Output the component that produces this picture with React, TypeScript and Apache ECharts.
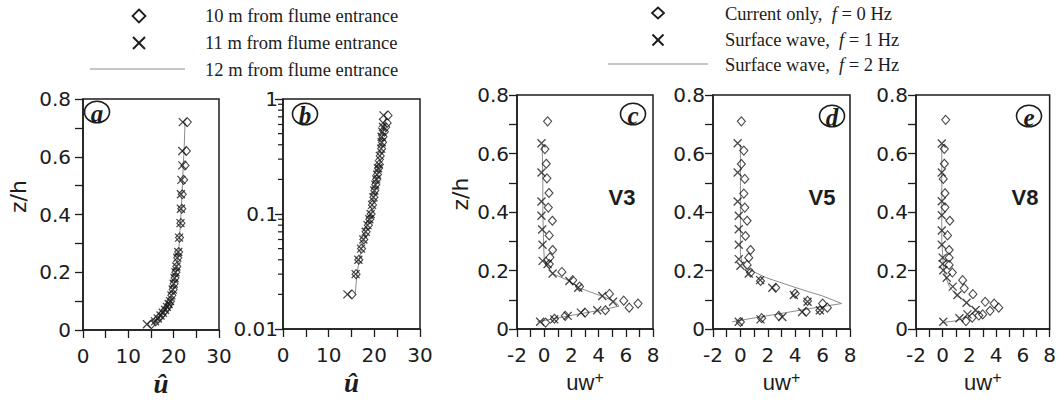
import React, { useEffect, useRef } from 'react';
import * as echarts from 'echarts';

// ---- Panels (a) & (b): mean velocity profiles, z/h levels and u-hat values ----
const zLevels = [0.02, 0.03, 0.04, 0.05, 0.06, 0.07, 0.08, 0.09, 0.1, 0.12, 0.14, 0.16, 0.18, 0.2, 0.22, 0.25, 0.27, 0.32, 0.37, 0.42, 0.47, 0.52, 0.57, 0.62, 0.72];
const u10m = [15.1, 16.0, 16.6, 17.2, 17.7, 18.2, 18.7, 19.0, 19.3, 19.6, 19.9, 20.1, 20.3, 20.5, 20.7, 20.9, 21.1, 21.3, 21.6, 21.8, 21.9, 22.2, 22.5, 22.8, 23.0];
const u11m = [14.1, 15.9, 16.5, 17.1, 17.6, 18.1, 18.5, 18.9, 19.2, 19.5, 19.8, 20.0, 20.2, 20.4, 20.6, 20.8, 21.0, 21.2, 21.5, 21.6, 21.6, 21.7, 21.9, 21.9, 22.0];
const u12m = [15.8, 16.2, 16.7, 17.2, 17.7, 18.1, 18.5, 18.9, 19.2, 19.6, 19.9, 20.1, 20.3, 20.5, 20.7, 20.9, 21.1, 21.3, 21.5, 21.7, 21.8, 22.0, 22.1, 22.3, 22.5];

// ---- Panels (c)-(e): Reynolds stress uw+ vs z/h, pairs [uw+, z/h] ----
const v3Current = [[0.25, 0.71], [0.05, 0.615], [0.15, 0.565], [0.2, 0.515], [0.35, 0.465], [0.3, 0.415], [0.6, 0.37], [0.37, 0.32], [0.62, 0.27], [0.42, 0.245], [0.37, 0.222], [1.3, 0.195], [2.1, 0.167], [2.6, 0.145], [4.8, 0.12], [5.85, 0.097], [6.9, 0.087], [6.25, 0.073], [4.5, 0.064], [3.0, 0.056], [1.55, 0.045], [0.75, 0.035], [0.1, 0.022]];
const v3Wave1 = [[-0.2, 0.635], [-0.2, 0.535], [-0.2, 0.436], [-0.2, 0.387], [-0.15, 0.34], [-0.12, 0.288], [-0.12, 0.233], [0.25, 0.222], [0.62, 0.19], [1.85, 0.164], [2.5, 0.141], [4.27, 0.113], [5.06, 0.093], [3.9, 0.064], [2.7, 0.056], [1.73, 0.045], [0.74, 0.033], [-0.3, 0.025]];
const v3Wave2 = [[-0.5, 0.025], [0.7, 0.035], [1.8, 0.045], [3.0, 0.055], [4.2, 0.065], [5.5, 0.078], [5.3, 0.09], [4.5, 0.108], [2.6, 0.14], [1.9, 0.163], [0.6, 0.19], [0.2, 0.22], [0.0, 0.24], [-0.05, 0.3], [-0.1, 0.4], [-0.1, 0.5], [-0.15, 0.63]];

const v5Current = [[0.07, 0.71], [0.25, 0.61], [0.07, 0.564], [0.32, 0.513], [0.25, 0.463], [0.32, 0.415], [0.49, 0.37], [0.37, 0.318], [0.74, 0.27], [0.61, 0.244], [0.49, 0.219], [0.74, 0.193], [1.47, 0.164], [2.58, 0.141], [4.0, 0.121], [4.9, 0.096], [6.0, 0.087], [6.35, 0.073], [5.8, 0.064], [4.8, 0.059], [2.8, 0.045], [1.55, 0.037], [0.0, 0.024]];
const v5Wave1 = [[-0.2, 0.635], [-0.2, 0.535], [-0.2, 0.436], [-0.12, 0.387], [-0.12, 0.341], [-0.12, 0.288], [-0.12, 0.239], [0.0, 0.216], [0.61, 0.19], [1.44, 0.167], [2.33, 0.141], [3.9, 0.116], [4.9, 0.093], [5.8, 0.064], [4.5, 0.058], [3.06, 0.041], [1.47, 0.033], [-0.12, 0.025]];
const v5Wave2 = [[-0.6, 0.025], [1.3, 0.04], [3.2, 0.055], [5.1, 0.07], [7.4, 0.087], [6.0, 0.113], [4.8, 0.13], [3.3, 0.153], [1.84, 0.176], [1.1, 0.193], [0.4, 0.21], [0.1, 0.23], [0.0, 0.26], [0.0, 0.4], [0.0, 0.5], [0.0, 0.63]];

const v8Current = [[0.22, 0.715], [0.12, 0.616], [0.12, 0.565], [0.04, 0.513], [0.17, 0.464], [0.17, 0.416], [0.53, 0.37], [0.36, 0.32], [0.48, 0.27], [0.48, 0.244], [0.48, 0.219], [0.72, 0.193], [1.49, 0.167], [1.61, 0.139], [2.26, 0.119], [3.18, 0.093], [3.85, 0.087], [4.19, 0.073], [3.54, 0.062], [2.99, 0.05], [2.7, 0.046], [2.21, 0.039], [1.74, 0.027]];
const v8Wave1 = [[-0.07, 0.634], [-0.07, 0.535], [-0.07, 0.437], [-0.07, 0.389], [-0.07, 0.337], [-0.07, 0.288], [0.0, 0.244], [0.0, 0.222], [0.04, 0.201], [0.3, 0.175], [0.75, 0.145], [1.1, 0.116], [1.78, 0.09], [2.46, 0.065], [1.85, 0.05], [1.25, 0.037], [0.04, 0.025]];
const v8Wave2 = [[0.0, 0.022], [1.0, 0.028], [1.8, 0.04], [2.5, 0.062], [1.8, 0.09], [1.0, 0.116], [0.5, 0.145], [0.2, 0.18], [0.05, 0.21], [0.0, 0.25], [-0.07, 0.3], [-0.07, 0.63]];

const logMinorTicks = [0.02, 0.03, 0.04, 0.05, 0.06, 0.07, 0.08, 0.09, 0.2, 0.3, 0.4, 0.5, 0.6, 0.7, 0.8, 0.9];

const INK = '#1c1c1c';
const LINE = '#8c8c8c';
const CROSS = 'path://M0,0L10,10M10,0L0,10';
const TICK_FONT = 'DejaVu Sans';
const TICK_SIZE = 20;

const grids = [
  { left: 83, top: 99, width: 136, height: 231 },
  { left: 283, top: 99, width: 137, height: 230 },
  { left: 517, top: 95, width: 136, height: 234 },
  { left: 713, top: 95, width: 137, height: 234 },
  { left: 916, top: 95, width: 138, height: 234 },
];

function makeX(gi: number, min: number, max: number, interval: number, name: string, nameTextStyle: any, nameGap: number) {
  return {
    type: 'value', gridIndex: gi, min, max, interval, position: 'bottom',
    axisLine: { show: true, onZero: false, lineStyle: { color: INK, width: 1.5 } },
    axisTick: { show: true, length: 8, lineStyle: { color: INK, width: 1.3 } },
    minorTick: { show: true, splitNumber: 2, length: 8, lineStyle: { color: INK, width: 1.3 } },
    splitLine: { show: false }, minorSplitLine: { show: false },
    axisLabel: { color: INK, fontSize: TICK_SIZE, fontFamily: TICK_FONT, margin: 16 },
    name, nameLocation: 'middle', nameGap, nameTextStyle,
  };
}

function makeY(gi: number, margin: number, name?: string) {
  return {
    type: 'value', gridIndex: gi, min: 0, max: 0.8, interval: 0.2, position: 'left',
    axisLine: { show: true, onZero: false, lineStyle: { color: INK, width: 1.5 } },
    axisTick: { show: true, length: 8, lineStyle: { color: INK, width: 1.3 } },
    minorTick: { show: true, splitNumber: 2, length: 8, lineStyle: { color: INK, width: 1.3 } },
    splitLine: { show: false }, minorSplitLine: { show: false },
    axisLabel: { color: INK, fontSize: TICK_SIZE, fontFamily: TICK_FONT, margin },
    name: name || '', nameLocation: 'middle', nameRotate: 90, nameGap: gi === 0 ? 54 : 46,
    nameTextStyle: { fontSize: 22, fontFamily: 'DejaVu Sans', color: INK, padding: [0, 0, 0, 36] },
  };
}

const uHatStyle = (shift: number) => ({ fontSize: 27, fontFamily: 'Liberation Serif', fontStyle: 'italic', fontWeight: 'bold', color: INK, padding: [0, 0, 0, shift] });
const uwStyle = {
  rich: {
    a: { fontSize: 22, fontFamily: 'Liberation Sans', color: INK, lineHeight: 25 },
    b: { fontSize: 16, fontFamily: 'Liberation Sans', color: INK, verticalAlign: 'top', lineHeight: 14 },
  },
};

const diamondStyle = { color: 'rgba(0,0,0,0)', borderColor: INK, borderWidth: 1.1 };
const crossStyle = { color: 'rgba(0,0,0,0)', borderColor: INK, borderWidth: 1.3 };

function profileSeries(gi: number, current: number[][], wave1: number[][], wave2: number[][]) {
  return [
    { type: 'line', xAxisIndex: gi, yAxisIndex: gi, data: wave2, showSymbol: false, symbol: 'none', lineStyle: { color: LINE, width: 1 }, z: 2 },
    { type: 'scatter', xAxisIndex: gi, yAxisIndex: gi, data: current, symbol: 'diamond', symbolSize: [8, 9], itemStyle: diamondStyle, z: 3 },
    { type: 'scatter', xAxisIndex: gi, yAxisIndex: gi, data: wave1, symbol: CROSS, symbolSize: [8, 8], itemStyle: crossStyle, z: 4 },
  ];
}

function velSeries(gi: number) {
  return [
    { type: 'line', xAxisIndex: gi, yAxisIndex: gi, data: zLevels.map((z, i) => [u12m[i], z]), showSymbol: false, symbol: 'none', lineStyle: { color: LINE, width: 1 }, z: 2 },
    { type: 'scatter', xAxisIndex: gi, yAxisIndex: gi, data: zLevels.map((z, i) => [u10m[i], z]), symbol: 'diamond', symbolSize: [8, 9], itemStyle: diamondStyle, z: 3 },
    { type: 'scatter', xAxisIndex: gi, yAxisIndex: gi, data: zLevels.map((z, i) => [u11m[i], z]), symbol: CROSS, symbolSize: [8, 8], itemStyle: crossStyle, z: 4 },
  ];
}

function circled(cx: number, cy: number, letter: string) {
  return {
    type: 'group', z: 20,
    children: [
      { type: 'ellipse', shape: { cx, cy, rx: 12.5, ry: 10.8 }, style: { fill: '#fff', stroke: INK, lineWidth: 1.6 } },
      { type: 'text', x: cx, y: cy + 1, style: { text: letter, font: 'italic bold 25px "Liberation Serif"', fill: INK, align: 'center', verticalAlign: 'middle' } },
    ],
  };
}

function diamondMark(cx: number, cy: number, w: number, h: number) {
  return { type: 'polygon', z: 20, shape: { points: [[cx, cy - h / 2], [cx + w / 2, cy], [cx, cy + h / 2], [cx - w / 2, cy]] }, style: { fill: 'none', stroke: INK, lineWidth: 1.8 } };
}
function crossMark(cx: number, cy: number, s: number) {
  return {
    type: 'group', z: 20,
    children: [
      { type: 'line', shape: { x1: cx - s / 2, y1: cy - s / 2, x2: cx + s / 2, y2: cy + s / 2 }, style: { stroke: INK, lineWidth: 2 } },
      { type: 'line', shape: { x1: cx + s / 2, y1: cy - s / 2, x2: cx - s / 2, y2: cy + s / 2 }, style: { stroke: INK, lineWidth: 2 } },
    ],
  };
}
function legendText(x: number, y: number, text: string) {
  return { type: 'text', z: 20, x, y, style: { text, font: '18.5px "Liberation Serif"', fill: INK, align: 'left', verticalAlign: 'middle', rich: { i: { fontStyle: 'italic', fontFamily: 'Liberation Serif', fontSize: 18.5 } } } };
}

export default function App() {
  const ref = useRef<HTMLDivElement>(null);
  useEffect(() => {
    if (!ref.current) return;
    const chart = echarts.init(ref.current, null, { renderer: 'svg' });
    const option: any = {
      animation: false,
      backgroundColor: '#ffffff',
      grid: grids.map((g) => ({ ...g, show: true, borderColor: INK, borderWidth: 1.5, backgroundColor: 'transparent' })),
      xAxis: [
        makeX(0, 0, 30, 10, 'û', uHatStyle(20), 26),
        makeX(1, 0, 30, 10, 'û', uHatStyle(0), 26),
        makeX(2, -2, 8, 2, '{a|uw}{b|+}', uwStyle, 36),
        makeX(3, -2, 8, 2, '{a|uw}{b|+}', uwStyle, 36),
        makeX(4, -2, 8, 2, '{a|uw}{b|+}', uwStyle, 36),
      ],
      yAxis: [
        makeY(0, 12, 'z/h'),
        {
          type: 'log', gridIndex: 1, min: 0.01, max: 1, logBase: 10, position: 'left',
          axisLine: { show: true, onZero: false, lineStyle: { color: INK, width: 1.5 } },
          axisTick: { show: true, length: 8, lineStyle: { color: INK, width: 1.3 } },
          minorTick: { show: false },
          splitLine: { show: false },
          axisLabel: { color: INK, fontSize: TICK_SIZE, fontFamily: TICK_FONT, margin: 5 },
        },
        makeY(2, 8, 'z/h'),
        makeY(3, 8),
        makeY(4, 8),
      ],
      series: [
        ...velSeries(0),
        ...velSeries(1),
        {
          type: 'custom', xAxisIndex: 1, yAxisIndex: 1, silent: true, clip: false, z: 5,
          data: logMinorTicks.map((t) => [0, t]),
          renderItem: (_p: any, api: any) => {
            const p = api.coord([api.value(0), api.value(1)]);
            return { type: 'line', shape: { x1: p[0] - 5, y1: p[1], x2: p[0], y2: p[1] }, style: { stroke: INK, lineWidth: 1.2 } };
          },
        },
        ...profileSeries(2, v3Current, v3Wave1, v3Wave2),
        ...profileSeries(3, v5Current, v5Wave1, v5Wave2),
        ...profileSeries(4, v8Current, v8Wave1, v8Wave2),
      ],
      graphic: [
        circled(97, 112, 'a'),
        circled(305, 114, 'b'),
        circled(633, 114, 'c'),
        circled(832, 116, 'd'),
        circled(1029, 116, 'e'),
        { type: 'text', z: 20, x: 622, y: 197, style: { text: 'V3', font: 'bold 22px "Liberation Sans"', fill: INK, align: 'center', verticalAlign: 'middle' } },
        { type: 'text', z: 20, x: 822, y: 197, style: { text: 'V5', font: 'bold 22px "Liberation Sans"', fill: INK, align: 'center', verticalAlign: 'middle' } },
        { type: 'text', z: 20, x: 1025, y: 197, style: { text: 'V8', font: 'bold 22px "Liberation Sans"', fill: INK, align: 'center', verticalAlign: 'middle' } },
        // left legend
        diamondMark(139, 16, 13, 13),
        crossMark(139, 43, 12),
        { type: 'line', z: 20, shape: { x1: 90, y1: 69, x2: 185, y2: 69 }, style: { stroke: LINE, lineWidth: 1 } },
        legendText(205, 16, '10 m from flume entrance'),
        legendText(205, 43, '11 m from flume entrance'),
        legendText(205, 70, '12 m from flume entrance'),
        // right legend
        diamondMark(658, 13, 12, 11),
        crossMark(658, 40, 11),
        { type: 'line', z: 20, shape: { x1: 608, y1: 64, x2: 708, y2: 64 }, style: { stroke: LINE, lineWidth: 1 } },
        legendText(725, 14, 'Current only,  {i|f} = 0 Hz'),
        legendText(725, 40, 'Surface wave,  {i|f} = 1 Hz'),
        legendText(725, 65, 'Surface wave,  {i|f} = 2 Hz'),
      ],
    };
    chart.setOption(option);
    return () => chart.dispose();
  }, []);
  return <div ref={ref} style={{ position: 'absolute', left: 0, top: 0, width: 1059, height: 407, background: '#fff' }} />;
}
